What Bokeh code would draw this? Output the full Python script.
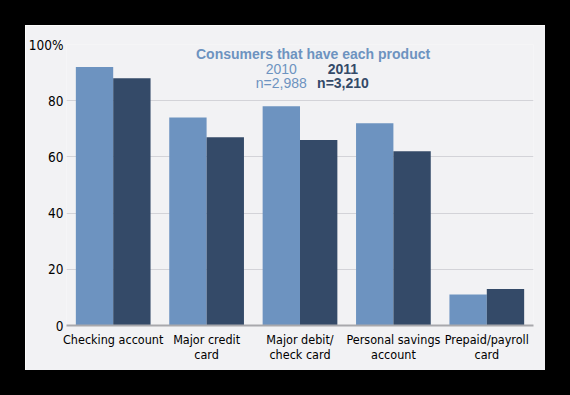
from bokeh.plotting import figure
from bokeh.models import ColumnDataSource, FixedTicker, Range1d, Label
from bokeh.embed import file_html
from bokeh.resources import INLINE

categories = ["Checking account", "Major credit\ncard", "Major debit/\ncheck card",
              "Personal savings\naccount", "Prepaid/payroll\ncard"]
values_2010 = [92, 74, 78, 72, 11]
values_2011 = [88, 67, 66, 62, 13]
y_ticks = [0, 20, 40, 60, 80, 100]
y_tick_labels = ["0", "20", "40", "60", "80", "100%"]
title_text = "Consumers that have each product"
series_names = ["2010", "2011"]
series_n = ["n=2,988", "n=3,210"]

C2010 = "#6d93c0"
C2011 = "#344a68"
PANEL = "#f2f2f4"
NARROW = "DejaVu Sans Condensed"

idx = list(range(len(categories)))
src = ColumnDataSource(dict(
    x10=[i - 0.2 for i in idx], x11=[i + 0.2 for i in idx],
    v10=values_2010, v11=values_2011))

p = figure(width=520, height=345, output_backend="svg", toolbar_location=None,
           x_range=Range1d(-0.5, 4.5), y_range=Range1d(0, 100),
           min_border_left=40, min_border_right=12, min_border_top=19, min_border_bottom=45,
           margin=(25, 25, 25, 25),
           styles={"outline": "25px solid black"})
p.border_fill_color = PANEL
p.background_fill_color = PANEL
p.outline_line_color = None

p.vbar(x="x10", top="v10", width=0.4, bottom=0, source=src, fill_color=C2010, line_color=None)
p.vbar(x="x11", top="v11", width=0.4, bottom=0, source=src, fill_color=C2011, line_color=None)

p.xgrid.grid_line_color = None
p.ygrid.grid_line_color = "#d3d3d8"
p.ygrid.grid_line_width = 1

for ax in (p.xaxis[0], p.yaxis[0]):
    ax.major_tick_out = 0
    ax.major_tick_in = 0
    ax.minor_tick_out = 0
    ax.minor_tick_in = 0
    ax.major_tick_line_color = None
    ax.minor_tick_line_color = None
    ax.major_label_text_color = "black"
    ax.major_label_text_font = NARROW

p.yaxis.ticker = FixedTicker(ticks=y_ticks)
p.yaxis.major_label_overrides = {t: l for t, l in zip(y_ticks, y_tick_labels)}
p.yaxis.axis_line_color = None
p.yaxis.major_label_standoff = 3
p.yaxis.major_label_text_font_size = "13.5px"

p.xaxis.ticker = FixedTicker(ticks=idx)
p.xaxis.major_label_overrides = {i: c for i, c in zip(idx, categories)}
p.xaxis.axis_line_color = "#a8a8ac"
p.xaxis.axis_line_width = 2
p.xaxis.major_label_standoff = 6
p.xaxis.major_label_text_font_size = "12.5px"
p.xaxis.major_label_text_line_height = 1.0

p.add_layout(Label(x=2.14, y=96.6, text=title_text, text_align="center", text_baseline="middle",
                   text_font="Liberation Sans", text_font_style="bold", text_font_size="14px",
                   text_color=C2010))
p.add_layout(Label(x=1.80, y=91.3, text=series_names[0], text_align="center", text_baseline="middle",
                   text_font="Liberation Sans", text_font_size="14px", text_color=C2010))
p.add_layout(Label(x=1.80, y=86.3, text=series_n[0], text_align="center", text_baseline="middle",
                   text_font="Liberation Sans", text_font_size="14px", text_color=C2010))
p.add_layout(Label(x=2.46, y=91.3, text=series_names[1], text_align="center", text_baseline="middle",
                   text_font="Liberation Sans", text_font_style="bold", text_font_size="14px",
                   text_color=C2011))
p.add_layout(Label(x=2.46, y=86.3, text=series_n[1], text_align="center", text_baseline="middle",
                   text_font="Liberation Sans", text_font_style="bold", text_font_size="14px",
                   text_color=C2011))

open("out.html", "w").write(file_html(p, INLINE))
